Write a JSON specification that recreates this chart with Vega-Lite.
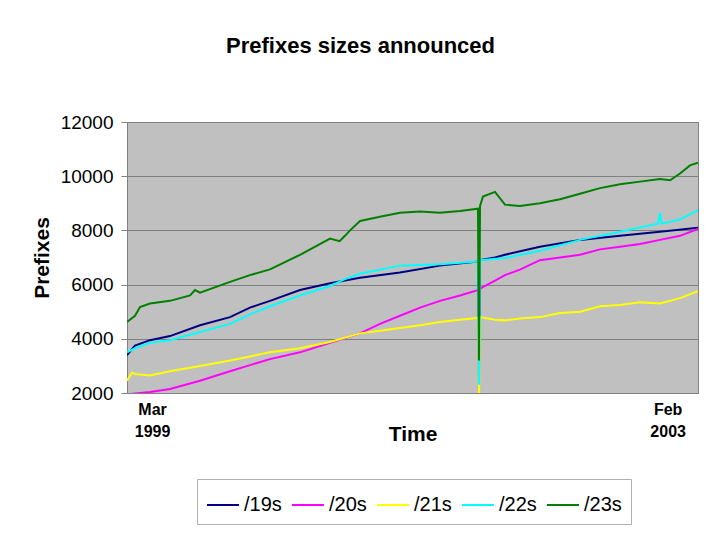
{
  "$schema": "https://vega.github.io/schema/vega-lite/v6.json",
  "width": 571,
  "height": 271,
  "autosize": {"type": "none"},
  "padding": {"left": 127, "top": 122, "right": 22, "bottom": 147},
  "background": "white",
  "title": {
    "text": "Prefixes sizes announced",
    "font": "Liberation Sans",
    "fontSize": 22,
    "fontWeight": "bold",
    "color": "black",
    "anchor": "middle",
    "frame": "group",
    "dx": -52,
    "offset": 55
  },
  "datasets": {
    "d": [
      {"month": 0, "series": "/19s", "prefixes": 3400},
      {"month": 0.66, "series": "/19s", "prefixes": 3750},
      {"month": 1.89, "series": "/19s", "prefixes": 3950},
      {"month": 3.54, "series": "/19s", "prefixes": 4100},
      {"month": 6.01, "series": "/19s", "prefixes": 4500},
      {"month": 8.48, "series": "/19s", "prefixes": 4800},
      {"month": 10.12, "series": "/19s", "prefixes": 5150},
      {"month": 11.77, "series": "/19s", "prefixes": 5400},
      {"month": 14.24, "series": "/19s", "prefixes": 5800},
      {"month": 16.71, "series": "/19s", "prefixes": 6050},
      {"month": 19.18, "series": "/19s", "prefixes": 6250},
      {"month": 22.47, "series": "/19s", "prefixes": 6450},
      {"month": 25.76, "series": "/19s", "prefixes": 6700},
      {"month": 28.89, "series": "/19s", "prefixes": 6850},
      {"month": 28.97, "series": "/19s", "prefixes": 2600},
      {"month": 29.06, "series": "/19s", "prefixes": 6900},
      {"month": 30.29, "series": "/19s", "prefixes": 7000},
      {"month": 31.11, "series": "/19s", "prefixes": 7100},
      {"month": 33.99, "series": "/19s", "prefixes": 7400},
      {"month": 37.29, "series": "/19s", "prefixes": 7650},
      {"month": 40.58, "series": "/19s", "prefixes": 7800},
      {"month": 43.87, "series": "/19s", "prefixes": 7950},
      {"month": 47, "series": "/19s", "prefixes": 8100},

      {"month": 0, "series": "/20s", "prefixes": 1950},
      {"month": 1.89, "series": "/20s", "prefixes": 2040},
      {"month": 3.54, "series": "/20s", "prefixes": 2150},
      {"month": 6.01, "series": "/20s", "prefixes": 2450},
      {"month": 8.48, "series": "/20s", "prefixes": 2800},
      {"month": 10.12, "series": "/20s", "prefixes": 3030},
      {"month": 11.77, "series": "/20s", "prefixes": 3250},
      {"month": 14.24, "series": "/20s", "prefixes": 3500},
      {"month": 16.71, "series": "/20s", "prefixes": 3850},
      {"month": 19.18, "series": "/20s", "prefixes": 4200},
      {"month": 20.82, "series": "/20s", "prefixes": 4550},
      {"month": 22.47, "series": "/20s", "prefixes": 4850},
      {"month": 24.12, "series": "/20s", "prefixes": 5150},
      {"month": 25.76, "series": "/20s", "prefixes": 5400},
      {"month": 27.41, "series": "/20s", "prefixes": 5600},
      {"month": 28.89, "series": "/20s", "prefixes": 5800},
      {"month": 28.97, "series": "/20s", "prefixes": 1900},
      {"month": 29.06, "series": "/20s", "prefixes": 5850},
      {"month": 30.29, "series": "/20s", "prefixes": 6150},
      {"month": 31.11, "series": "/20s", "prefixes": 6350},
      {"month": 32.35, "series": "/20s", "prefixes": 6550},
      {"month": 33.99, "series": "/20s", "prefixes": 6900},
      {"month": 35.64, "series": "/20s", "prefixes": 7000},
      {"month": 37.29, "series": "/20s", "prefixes": 7100},
      {"month": 38.93, "series": "/20s", "prefixes": 7300},
      {"month": 40.58, "series": "/20s", "prefixes": 7400},
      {"month": 42.23, "series": "/20s", "prefixes": 7500},
      {"month": 43.87, "series": "/20s", "prefixes": 7650},
      {"month": 45.52, "series": "/20s", "prefixes": 7800},
      {"month": 47, "series": "/20s", "prefixes": 8050},

      {"month": 0, "series": "/21s", "prefixes": 2450},
      {"month": 0.4, "series": "/21s", "prefixes": 2750},
      {"month": 0.66, "series": "/21s", "prefixes": 2700},
      {"month": 1.89, "series": "/21s", "prefixes": 2650},
      {"month": 3.54, "series": "/21s", "prefixes": 2800},
      {"month": 6.01, "series": "/21s", "prefixes": 3000},
      {"month": 8.48, "series": "/21s", "prefixes": 3200},
      {"month": 10.12, "series": "/21s", "prefixes": 3350},
      {"month": 11.77, "series": "/21s", "prefixes": 3500},
      {"month": 14.24, "series": "/21s", "prefixes": 3650},
      {"month": 16.71, "series": "/21s", "prefixes": 3880},
      {"month": 19.18, "series": "/21s", "prefixes": 4200},
      {"month": 20.82, "series": "/21s", "prefixes": 4300},
      {"month": 22.47, "series": "/21s", "prefixes": 4400},
      {"month": 24.12, "series": "/21s", "prefixes": 4500},
      {"month": 25.76, "series": "/21s", "prefixes": 4620},
      {"month": 27.41, "series": "/21s", "prefixes": 4700},
      {"month": 28.89, "series": "/21s", "prefixes": 4770},
      {"month": 28.97, "series": "/21s", "prefixes": 1500},
      {"month": 29.06, "series": "/21s", "prefixes": 4800},
      {"month": 30.29, "series": "/21s", "prefixes": 4700},
      {"month": 31.11, "series": "/21s", "prefixes": 4680},
      {"month": 32.35, "series": "/21s", "prefixes": 4750},
      {"month": 33.99, "series": "/21s", "prefixes": 4800},
      {"month": 35.64, "series": "/21s", "prefixes": 4950},
      {"month": 37.29, "series": "/21s", "prefixes": 5000},
      {"month": 38.93, "series": "/21s", "prefixes": 5200},
      {"month": 40.58, "series": "/21s", "prefixes": 5250},
      {"month": 42.23, "series": "/21s", "prefixes": 5350},
      {"month": 43.87, "series": "/21s", "prefixes": 5300},
      {"month": 45.52, "series": "/21s", "prefixes": 5500},
      {"month": 47, "series": "/21s", "prefixes": 5760},

      {"month": 0, "series": "/22s", "prefixes": 3500},
      {"month": 0.66, "series": "/22s", "prefixes": 3650},
      {"month": 1.89, "series": "/22s", "prefixes": 3850},
      {"month": 3.54, "series": "/22s", "prefixes": 3950},
      {"month": 6.01, "series": "/22s", "prefixes": 4250},
      {"month": 8.48, "series": "/22s", "prefixes": 4550},
      {"month": 10.12, "series": "/22s", "prefixes": 4900},
      {"month": 11.77, "series": "/22s", "prefixes": 5200},
      {"month": 14.24, "series": "/22s", "prefixes": 5600},
      {"month": 16.71, "series": "/22s", "prefixes": 5950},
      {"month": 17.94, "series": "/22s", "prefixes": 6200},
      {"month": 19.18, "series": "/22s", "prefixes": 6400},
      {"month": 22.47, "series": "/22s", "prefixes": 6700},
      {"month": 25.76, "series": "/22s", "prefixes": 6750},
      {"month": 28.89, "series": "/22s", "prefixes": 6850},
      {"month": 28.97, "series": "/22s", "prefixes": 2300},
      {"month": 29.06, "series": "/22s", "prefixes": 6900},
      {"month": 31.11, "series": "/22s", "prefixes": 6980},
      {"month": 33.99, "series": "/22s", "prefixes": 7250},
      {"month": 37.29, "series": "/22s", "prefixes": 7650},
      {"month": 40.58, "series": "/22s", "prefixes": 7950},
      {"month": 43.7, "series": "/22s", "prefixes": 8250},
      {"month": 43.87, "series": "/22s", "prefixes": 8650},
      {"month": 44.0, "series": "/22s", "prefixes": 8250},
      {"month": 45.52, "series": "/22s", "prefixes": 8400},
      {"month": 47, "series": "/22s", "prefixes": 8750},

      {"month": 0, "series": "/23s", "prefixes": 4620},
      {"month": 0.66, "series": "/23s", "prefixes": 4850},
      {"month": 1.07, "series": "/23s", "prefixes": 5170},
      {"month": 1.89, "series": "/23s", "prefixes": 5300},
      {"month": 3.54, "series": "/23s", "prefixes": 5400},
      {"month": 5.19, "series": "/23s", "prefixes": 5600},
      {"month": 5.6, "series": "/23s", "prefixes": 5800},
      {"month": 6.01, "series": "/23s", "prefixes": 5700},
      {"month": 8.48, "series": "/23s", "prefixes": 6100},
      {"month": 10.12, "series": "/23s", "prefixes": 6350},
      {"month": 11.77, "series": "/23s", "prefixes": 6560},
      {"month": 14.24, "series": "/23s", "prefixes": 7100},
      {"month": 16.71, "series": "/23s", "prefixes": 7700},
      {"month": 17.5, "series": "/23s", "prefixes": 7600},
      {"month": 17.94, "series": "/23s", "prefixes": 7800},
      {"month": 18.36, "series": "/23s", "prefixes": 8000},
      {"month": 19.18, "series": "/23s", "prefixes": 8350},
      {"month": 20.82, "series": "/23s", "prefixes": 8500},
      {"month": 22.47, "series": "/23s", "prefixes": 8650},
      {"month": 24.12, "series": "/23s", "prefixes": 8700},
      {"month": 25.76, "series": "/23s", "prefixes": 8650},
      {"month": 27.41, "series": "/23s", "prefixes": 8720},
      {"month": 28.89, "series": "/23s", "prefixes": 8800},
      {"month": 28.97, "series": "/23s", "prefixes": 3200},
      {"month": 29.06, "series": "/23s", "prefixes": 8900},
      {"month": 29.3, "series": "/23s", "prefixes": 9250},
      {"month": 30.29, "series": "/23s", "prefixes": 9420},
      {"month": 31.11, "series": "/23s", "prefixes": 8950},
      {"month": 32.35, "series": "/23s", "prefixes": 8900},
      {"month": 33.99, "series": "/23s", "prefixes": 9000},
      {"month": 35.64, "series": "/23s", "prefixes": 9150},
      {"month": 37.29, "series": "/23s", "prefixes": 9350},
      {"month": 38.93, "series": "/23s", "prefixes": 9560},
      {"month": 40.58, "series": "/23s", "prefixes": 9700},
      {"month": 42.23, "series": "/23s", "prefixes": 9800},
      {"month": 43.87, "series": "/23s", "prefixes": 9900},
      {"month": 44.7, "series": "/23s", "prefixes": 9850},
      {"month": 45.52, "series": "/23s", "prefixes": 10100},
      {"month": 46.34, "series": "/23s", "prefixes": 10400},
      {"month": 47, "series": "/23s", "prefixes": 10500}
    ]
  },
  "data": {"name": "d"},
  "mark": {"type": "line", "strokeWidth": 2, "clip": true, "interpolate": "linear"},
  "encoding": {
    "x": {
      "field": "month",
      "type": "quantitative",
      "scale": {"domain": [0, 47], "nice": false, "zero": false},
      "axis": {
        "title": "Time",
        "titleFont": "Liberation Sans",
        "titleFontSize": 21,
        "titleFontWeight": "bold",
        "titleColor": "black",
        "titlePadding": -16,
        "values": [2.06, 44.5],
        "labelExpr": "datum.value < 10 ? ['Mar', '1999'] : ['Feb', '2003']",
        "labelFont": "Liberation Sans",
        "labelFontSize": 16,
        "labelFontWeight": "bold",
        "labelColor": "black",
        "labelLineHeight": 22,
        "labelPadding": 8,
        "ticks": false,
        "domain": false,
        "grid": false
      }
    },
    "y": {
      "field": "prefixes",
      "type": "quantitative",
      "scale": {"domain": [2000, 12000], "nice": false, "zero": false},
      "axis": {
        "title": "Prefixes",
        "titleFont": "Liberation Sans",
        "titleFontSize": 21,
        "titleFontWeight": "bold",
        "titleColor": "black",
        "titlePadding": 8,
        "values": [2000, 4000, 6000, 8000, 10000, 12000],
        "format": "d",
        "labelFont": "Liberation Sans",
        "labelFontSize": 19,
        "labelColor": "black",
        "labelPadding": 8,
        "tickSize": 6,
        "tickColor": "#808080",
        "domain": false,
        "grid": true,
        "gridColor": "#808080",
        "gridWidth": 1
      }
    },
    "color": {
      "field": "series",
      "type": "nominal",
      "scale": {
        "domain": ["/19s", "/20s", "/21s", "/22s", "/23s"],
        "range": ["#000080", "#ff00ff", "#ffff00", "#00ffff", "#008000"]
      },
      "legend": {
        "title": null,
        "orient": "none",
        "legendX": 70,
        "legendY": 357,
        "direction": "horizontal",
        "symbolType": "stroke",
        "symbolSize": 1024,
        "symbolStrokeWidth": 2,
        "labelFont": "Liberation Sans",
        "labelFontSize": 20,
        "labelColor": "black",
        "labelOffset": 4,
        "columnPadding": 6,
        "padding": 9,
        "fillColor": "white",
        "strokeColor": "#b0b0b0"
      }
    }
  },
  "config": {
    "view": {"fill": "#c0c0c0", "stroke": "#808080", "strokeWidth": 1}
  }
}
